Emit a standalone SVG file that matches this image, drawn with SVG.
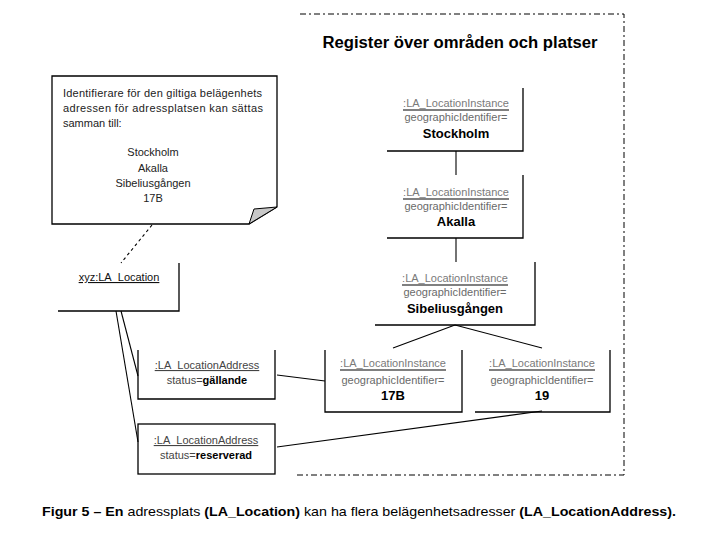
<svg xmlns="http://www.w3.org/2000/svg" width="720" height="540" viewBox="0 0 720 540">
<style>
text{font-family:"Liberation Sans",Arial,sans-serif;}
.edge{fill:none;stroke:#000;stroke-width:1.3;}
.cls{font-size:11px;fill:#7a7a7a;text-anchor:middle;}
.ul{stroke:#808080;stroke-width:2;}
.attr{font-size:11px;fill:#6a6a6a;text-anchor:middle;}
.val{font-size:13px;font-weight:bold;fill:#000;text-anchor:middle;}
.note{font-size:11px;fill:#222;}
.conn{fill:none;stroke:#000;stroke-width:1.1;}
.frame{fill:none;stroke:#000;stroke-width:1;stroke-dasharray:6 3 2 3;}
</style>
<rect width="720" height="540" fill="#fff"/>
<g id="frame">
<polyline class="frame" points="300,14 624,14 624,475 297,475"/>
<text x="460" y="48" font-size="16" font-weight="bold" text-anchor="middle" fill="#000" textLength="275" lengthAdjust="spacingAndGlyphs">Register över områden och platser</text>
</g>
<g id="connectors">
<line class="conn" x1="456" y1="151" x2="456" y2="175"/>
<line class="conn" x1="456" y1="238" x2="456" y2="262"/>
<line class="conn" x1="455" y1="325" x2="393" y2="348"/>
<line class="conn" x1="455" y1="325" x2="542" y2="348"/>
<line class="conn" x1="277" y1="375" x2="325" y2="381"/>
<line class="conn" x1="277" y1="447" x2="542" y2="411"/>
<line class="conn" x1="121" y1="311" x2="138" y2="376"/>
<line class="conn" x1="116" y1="311" x2="138" y2="442"/>
<line class="conn" x1="152" y1="225" x2="121" y2="263" stroke-dasharray="3 3"/>
</g>
<g id="note">
<path class="edge" d="M52,76 H277 V207 L249,224 H52 Z" fill="#fff"/>
<path d="M249,224 L254,209 L277,207 Z" fill="#c8c8c8" stroke="#000" stroke-width="1"/>
<text class="note" x="63" y="97" textLength="199" lengthAdjust="spacing">Identifierare för den giltiga belägenhets</text>
<text class="note" x="63" y="112" textLength="200" lengthAdjust="spacing">adressen för adressplatsen kan sättas</text>
<text class="note" x="63" y="127">samman till:</text>
<text class="note" x="153" y="156" text-anchor="middle">Stockholm</text>
<text class="note" x="153" y="172" text-anchor="middle">Akalla</text>
<text class="note" x="153" y="187" text-anchor="middle">Sibeliusgången</text>
<text class="note" x="153" y="202" text-anchor="middle">17B</text>
</g>
<g id="stockholm">
<polyline class="edge" points="523,88 523,151 387,151"/>
<text class="cls" x="456" y="107">:LA_LocationInstance</text>
<line class="ul" x1="403" y1="110" x2="509" y2="110"/>
<text class="attr" x="456" y="121">geographicIdentifier=</text>
<text class="val" x="456" y="138">Stockholm</text>
</g>
<g id="akalla">
<polyline class="edge" points="523,175 523,238 387,238"/>
<text class="cls" x="456" y="196">:LA_LocationInstance</text>
<line class="ul" x1="403" y1="199" x2="509" y2="199"/>
<text class="attr" x="456" y="210">geographicIdentifier=</text>
<text class="val" x="456" y="226">Akalla</text>
</g>
<g id="sibeliusgangen">
<polyline class="edge" points="535,262 535,325 375,325"/>
<text class="cls" x="455" y="282">:LA_LocationInstance</text>
<line class="ul" x1="402" y1="285" x2="508" y2="285"/>
<text class="attr" x="455" y="296">geographicIdentifier=</text>
<text class="val" x="455" y="313">Sibeliusgången</text>
</g>
<g id="nr17b">
<polyline class="edge" points="325,350 325,412 462,412 462,350"/>
<text class="cls" x="393" y="367">:LA_LocationInstance</text>
<line class="ul" x1="340" y1="370" x2="446" y2="370"/>
<text class="attr" x="393" y="384">geographicIdentifier=</text>
<text class="val" x="393" y="400">17B</text>
</g>
<g id="nr19">
<polyline class="edge" points="475,412 610,412 610,350"/>
<text class="cls" x="542" y="367">:LA_LocationInstance</text>
<line class="ul" x1="489" y1="370" x2="595" y2="370"/>
<text class="attr" x="542" y="384">geographicIdentifier=</text>
<text class="val" x="542" y="400">19</text>
</g>
<g id="xyz">
<polyline class="edge" points="179,263 179,311 58,311"/>
<text x="119" y="281" font-size="11" fill="#111" text-anchor="middle" text-decoration="underline">xyz:LA_Location</text>
</g>
<g id="address-gallande">
<polyline class="edge" points="138,350 138,399 275,399 275,350"/>
<text x="207" y="369" font-size="11" fill="#444" text-anchor="middle" text-decoration="underline">:LA_LocationAddress</text>
<text x="207" y="384" font-size="11" fill="#444" text-anchor="middle">status=<tspan font-weight="bold" fill="#000">gällande</tspan></text>
</g>
<g id="address-reserverad">
<rect class="edge" x="138" y="424" width="137" height="50"/>
<text x="206" y="444" font-size="11" fill="#444" text-anchor="middle" text-decoration="underline">:LA_LocationAddress</text>
<text x="206" y="459" font-size="11" fill="#444" text-anchor="middle">status=<tspan font-weight="bold" fill="#000">reserverad</tspan></text>
</g>
<g id="caption">
<text x="42" y="516" font-size="13" fill="#000" textLength="634" lengthAdjust="spacingAndGlyphs"><tspan font-weight="bold">Figur 5 – En</tspan> adressplats <tspan font-weight="bold">(LA_Location)</tspan> kan ha flera belägenhetsadresser <tspan font-weight="bold">(LA_LocationAddress).</tspan></text>
</g>
</svg>
